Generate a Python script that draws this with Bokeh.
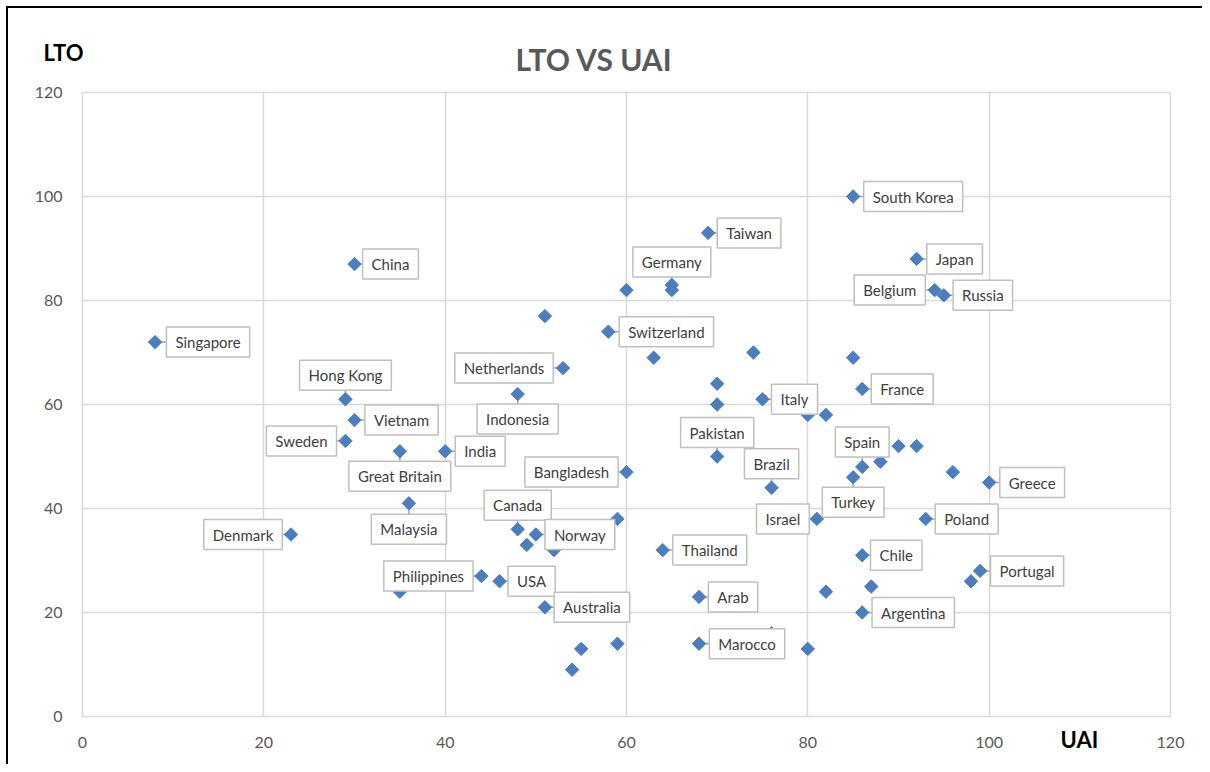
from bokeh.plotting import figure
from bokeh.models import ColumnDataSource, FixedTicker, Range1d, Title
from bokeh.embed import file_html
from bokeh.resources import INLINE
from bokeh.core.properties import value

# ---- data ----
countries = ["Singapore", "China", "Hong Kong", "Vietnam", "Sweden", "Great Britain", "India",
             "Malaysia", "Denmark", "Netherlands", "Indonesia", "Switzerland", "Germany", "Taiwan",
             "South Korea", "Japan", "Belgium", "Russia", "France", "Italy", "Pakistan", "Brazil",
             "Spain", "Turkey", "Israel", "Poland", "Greece", "Chile", "Portugal", "Argentina",
             "Thailand", "Arab", "Marocco", "Bangladesh", "Canada", "Norway", "Philippines",
             "USA", "Australia"]
uai = [8, 30, 29, 30, 29, 35, 40, 36, 23, 53, 48, 58, 65, 69, 85, 92, 94, 95, 86, 75, 70, 76,
       86, 85, 81, 93, 100, 86, 99, 86, 64, 68, 68, 60, 48, 50, 44, 46, 51]
lto = [72, 87, 61, 57, 53, 51, 51, 41, 35, 67, 62, 74, 83, 93, 100, 88, 82, 81, 63, 61, 50, 44,
       48, 46, 38, 38, 45, 31, 28, 20, 32, 23, 14, 47, 36, 35, 27, 26, 21]

# unlabeled points
other_uai = [65, 60, 51, 63, 74, 70, 70, 80, 82, 85, 88, 90, 92, 96, 49, 52, 59, 35, 54, 55,
             59, 76, 80, 82, 87, 98]
other_lto = [82, 82, 77, 69, 70, 64, 60, 58, 58, 69, 49, 52, 52, 47, 33, 32, 38, 24, 9, 13,
             14, 16, 13, 24, 25, 26]

x_ticks = [0, 20, 40, 60, 80, 100, 120]
y_ticks = [0, 20, 40, 60, 80, 100, 120]

# ---- layout: label offsets in screen pixels (dx right, dy up) ----
label_offsets = {
    "Singapore": (53, 0), "China": (36, 0), "Hong Kong": (0, 24), "Vietnam": (47, 0),
    "Sweden": (-44, 0), "Great Britain": (0, -25), "India": (35, 0), "Malaysia": (0, -26),
    "Denmark": (-48, 0), "Netherlands": (-59, 0), "Indonesia": (0, -25), "Switzerland": (58, 0),
    "Germany": (0, 23), "Taiwan": (41, 0), "South Korea": (60, 0), "Japan": (38, 0),
    "Belgium": (-45, 0), "Russia": (39, 0), "France": (40, 0), "Italy": (32, 0),
    "Pakistan": (0, 24), "Brazil": (0, 24), "Spain": (0, 25), "Turkey": (0, -25),
    "Israel": (-34, 0), "Poland": (41, 0), "Greece": (43, 0), "Chile": (34, 0),
    "Portugal": (47, 0), "Argentina": (51, 0), "Thailand": (47, 0), "Arab": (34, 0),
    "Marocco": (48, 0), "Bangladesh": (-55, 0), "Canada": (0, 24), "Norway": (44, 0),
    "Philippines": (-53, 0), "USA": (32, 0), "Australia": (47, 0),
}

FW, FH = 1088, 624
XMAX, YMAX = 120, 120
sx = FW / XMAX
sy = FH / YMAX

lx = [x + label_offsets[c][0] / sx for c, x in zip(countries, uai)]
ly = [y + label_offsets[c][1] / sy for c, y in zip(countries, lto)]

src = ColumnDataSource(dict(name=countries, x=uai, y=lto, lx=lx, ly=ly))
src2 = ColumnDataSource(dict(x=other_uai, y=other_lto))

p = figure(frame_width=FW, frame_height=FH, output_backend="svg", toolbar_location=None,
           x_range=Range1d(0, XMAX), y_range=Range1d(0, YMAX),
           min_border_left=74, min_border_right=32, min_border_top=84, min_border_bottom=48,
           background_fill_color="white", border_fill_color="white")
p.styles = {"border-left": "2px solid #000", "border-top": "2px solid #000",
            "margin-left": "6px", "margin-top": "6px"}
p.outline_line_color = "#d9d9d9"
p.outline_line_width = 1.5

for ax, ticks in ((p.xaxis, x_ticks), (p.yaxis, y_ticks)):
    ax.ticker = FixedTicker(ticks=ticks)
    ax.axis_line_color = None
    ax.major_tick_line_color = None
    ax.minor_tick_line_color = None
    ax.major_label_text_font = "Lato"
    ax.major_label_text_font_size = "16px"
    ax.major_label_text_color = "#595959"
    ax.major_label_standoff = 14

p.xgrid.ticker = FixedTicker(ticks=x_ticks)
p.ygrid.ticker = FixedTicker(ticks=y_ticks)
p.grid.grid_line_color = "#d9d9d9"
p.grid.grid_line_width = 1.5

# leader lines
p.segment(x0="x", y0="y", x1="lx", y1="ly", source=src, line_color="#a6a6a6", line_width=1.5)

marker_color = "#4a7ebf"
p.scatter("x", "y", source=src2, marker="square", angle=0.785398, size=9.5,
          fill_color=marker_color, line_color=marker_color)
p.scatter("x", "y", source=src, marker="square", angle=0.785398, size=9.5,
          fill_color=marker_color, line_color=marker_color)

p.text(x="lx", y="ly", text="name", source=src, text_align="center", text_baseline="middle",
       text_font=value("Lato"), text_font_size="15px", text_color="#404040",
       background_fill_color="white", border_line_color="#bfbfbf", border_line_width=1.5,
       padding=(9, 6))

# y-axis name at the top-left (outer title row)
p.title.text = "LTO"
p.title.align = "left"
p.title.offset = -39
p.title.standoff = -86
p.title.vertical_align = "bottom"
p.title.text_font = "Lato"
p.title.text_font_style = "bold"
p.title.text_font_size = "22px"
p.title.text_color = "#000000"

# chart title (row next to the frame)
p.add_layout(Title(text="LTO VS UAI", align="left", offset=433, standoff=32,
                   vertical_align="bottom", text_font="Lato", text_font_style="bold",
                   text_font_size="30px", text_color="#595959"), "above")

# x-axis name at the bottom-right, in the tick-label row
p.add_layout(Title(text="UAI", align="left", offset=978, standoff=-50, vertical_align="top",
                   text_font="Lato", text_font_style="bold", text_font_size="22px",
                   text_color="#000000"), "below")

open("out.html", "w").write(file_html(p, INLINE))
